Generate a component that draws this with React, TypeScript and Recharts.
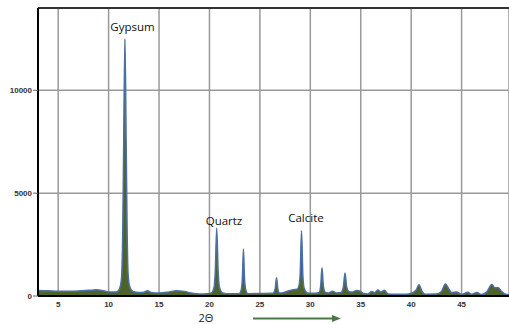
import { AreaChart, Area, XAxis, YAxis, CartesianGrid, ReferenceLine, ReferenceDot } from 'recharts'

// XRD pattern: 2-theta (deg) and counts
const twoTheta = [
  3.0, 4.0, 5.0, 6.0, 7.0, 8.0, 8.8, 9.5, 10.0, 10.6,
  10.9, 11.15, 11.3, 11.4, 11.5, 11.62, 11.74, 11.84, 11.94, 12.1, 12.4,
  13.0, 13.5, 13.85, 14.2, 15.0, 16.0, 16.7, 17.5, 18.3, 19.0, 19.8,
  20.2, 20.45, 20.58, 20.72, 20.86, 21.0, 21.3, 22.0,
  22.95, 23.15, 23.27, 23.37, 23.47, 23.6, 23.8, 25.0,
  26.3, 26.52, 26.65, 26.78, 26.95, 27.4, 27.9, 28.3, 28.7,
  28.88, 29.0, 29.13, 29.26, 29.4, 29.7, 30.2,
  30.85, 31.02, 31.16, 31.3, 31.5, 31.8, 32.2, 32.6,
  33.05, 33.28, 33.44, 33.6, 33.85, 34.2, 34.6, 34.9, 35.3, 35.7,
  36.1, 36.35, 36.7, 37.0, 37.35, 37.7, 38.5, 39.5,
  40.0, 40.5, 40.78, 41.05, 41.4, 42.5, 43.0, 43.4, 43.75, 44.0, 44.5,
  45.0, 45.6, 46.0, 46.5, 47.0, 47.5, 48.0, 48.3, 48.6, 49.0, 49.3, 49.7,
]
const intensity = [
  270, 255, 230, 230, 245, 275, 300, 250, 200, 190,
  220, 450, 1000, 3000, 7500, 12500, 7500, 3000, 1000, 450, 220,
  170, 180, 260, 170, 145, 200, 255, 225, 130, 100, 110,
  150, 400, 1200, 3290, 1200, 400, 150, 105,
  110, 300, 900, 2285, 900, 300, 115, 120,
  130, 350, 890, 350, 140, 170, 260, 310, 330,
  500, 1100, 3175, 1000, 350, 150, 130,
  160, 450, 1375, 450, 170, 150, 230, 150,
  170, 450, 1120, 450, 210, 200, 270, 240, 120, 100,
  220, 160, 290, 190, 280, 100, 80, 85,
  130, 290, 550, 250, 90, 95, 220, 580, 330, 170, 190,
  80, 180, 80, 170, 70, 200, 560, 400, 410, 200, 100, 60,
]

const xTicks = [5, 10, 15, 20, 25, 30, 35, 40, 45]
const yTicks = [0, 5000, 10000]

const peakNames = ['Gypsum', 'Quartz', 'Calcite']
const peakLabelTheta = [12.37, 21.44, 29.57]
const peakLabelCounts = [12860, 3450, 3600]

const data = twoTheta.map((t, i) => ({ t, c: intensity[i] }))

const tickStyle = { fontSize: 8, fill: '#333', fontWeight: 'bold', fontFamily: 'Liberation Sans' }

const peakLabel = (text: string) => (props: any) => {
  const vb = props.viewBox || {}
  const x = (vb.x ?? 0) + (vb.width ?? 0) / 2
  const y = (vb.y ?? 0) + (vb.height ?? 0) / 2
  return (
    <text x={x} y={y} textAnchor="middle" fontSize={11.5} fontFamily="Open Sans" fill="#111">
      {text}
    </text>
  )
}

export default function App() {
  return (
    <div style={{ position: 'relative', width: 509, height: 324, background: '#fff' }}>
      <style>{'body{margin:0}'}</style>
      <AreaChart width={509} height={324} data={data} margin={{ top: 8, right: 0, left: 0, bottom: 12 }}>
        <CartesianGrid stroke="#999" strokeWidth={1.5} />
        <XAxis
          type="number"
          dataKey="t"
          domain={[3, 49.7]}
          ticks={xTicks}
          allowDataOverflow
          height={16}
          tickLine={false}
          tickSize={0}
          tickMargin={5}
          axisLine={{ stroke: '#000', strokeWidth: 2 }}
          tick={tickStyle}
        />
        <YAxis
          type="number"
          domain={[0, 14000]}
          ticks={yTicks}
          allowDataOverflow
          width={38}
          tickSize={5}
          tickMargin={1}
          tickLine={{ stroke: '#666' }}
          axisLine={{ stroke: '#000', strokeWidth: 2 }}
          tick={tickStyle}
        />
        <ReferenceLine y={14000} stroke="#333" strokeWidth={2} />
        <Area
          type="monotone"
          dataKey="c"
          stroke="#4A70A6"
          strokeWidth={1.5}
          fill="#4F6228"
          fillOpacity={1}
          dot={false}
          activeDot={false}
          isAnimationActive={false}
        />
        {peakNames.map((name, i) => (
          <ReferenceDot
            key={name}
            x={peakLabelTheta[i]}
            y={peakLabelCounts[i]}
            r={0}
            fill="none"
            stroke="none"
            label={peakLabel(name)}
          />
        ))}
      </AreaChart>
      <svg width={509} height={324} style={{ position: 'absolute', left: 0, top: 0, pointerEvents: 'none' }}>
        <text x={206} y={322} textAnchor="middle" fontSize={11} fontFamily="Open Sans" fill="#222">
          2Θ
        </text>
        <line x1={253} y1={318.5} x2={334} y2={318.5} stroke="#4A7A44" strokeWidth={2} />
        <polygon points="332,315 341,318.5 332,322" fill="#4A7A44" />
      </svg>
    </div>
  )
}
